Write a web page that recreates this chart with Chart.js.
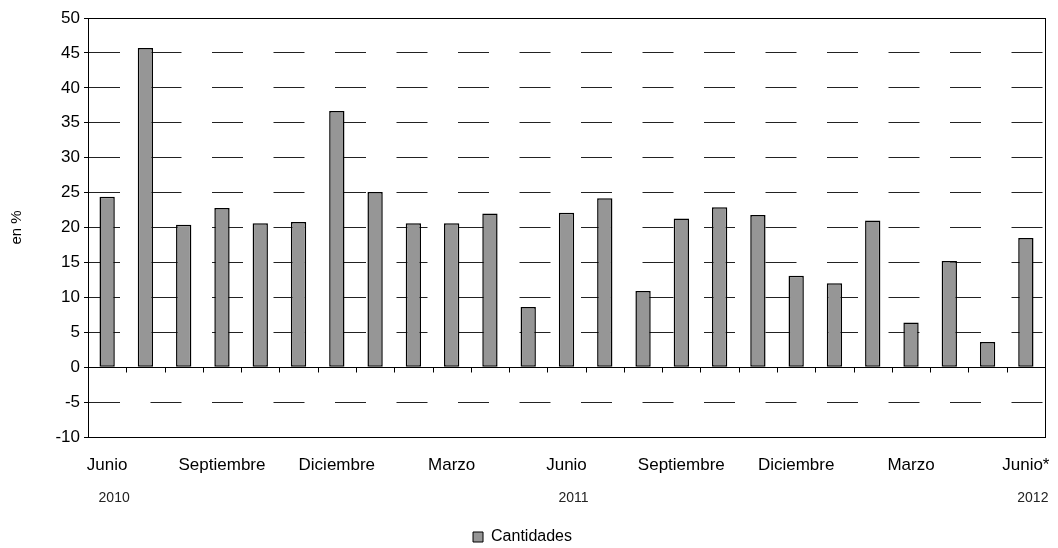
<!DOCTYPE html>
<html>
<head>
<meta charset="utf-8">
<script src="https://cdn.jsdelivr.net/npm/chart.js@4/dist/chart.umd.min.js"></script>
<style>
  html, body { margin: 0; padding: 0; background: #fff; }
  #wrap { width: 1058px; height: 548px; }
</style>
</head>
<body>
<div id="wrap"><canvas id="chartCanvas"></canvas></div>
<script>
// meses (solo algunos llevan etiqueta)
const meses = ['Junio', '', '', 'Septiembre', '', '', 'Diciembre', '', '', 'Marzo', '', '',
  'Junio', '', '', 'Septiembre', '', '', 'Diciembre', '', '', 'Marzo', '', '', 'Junio*'];
const anios = ['2010', '', '', '', '', '', '', '', '', '', '', '',
  '2011', '', '', '', '', '', '', '', '', '', '', '', '2012'];
const cantidades = [24.4, 45.7, 20.4, 22.8, 20.6, 20.8, 36.7, 25.1, 20.6, 20.6, 22.0, 8.6,
  22.1, 24.2, 10.9, 21.3, 22.9, 21.8, 13.1, 12.0, 21.0, 6.4, 15.2, 3.6, 18.5];
const yTicks = { min: -10, max: 50, step: 5 };

const FONT = 'Liberation Sans, Arial, sans-serif';

// marco del area y marcas del eje de categorias sobre el cero
const marcoPlugin = {
  id: 'marco',
  beforeLayout(chart) {
    const lg = chart.legend;
    if (lg && !lg._ajustado) {
      const fitOrig = lg.fit.bind(lg);
      lg.fit = function () { fitOrig(); this.height -= 7; };
      lg._ajustado = true;
    }
  },
  afterDatasetsDraw(chart) {
    const { ctx, chartArea } = chart;
    const x = chart.scales.x;
    const y0 = Math.round(chart.scales.y.getPixelForValue(0)) + 0.5;
    ctx.save();
    ctx.strokeStyle = '#000';
    ctx.lineWidth = 1;
    ctx.strokeRect(Math.round(chartArea.left) + 0.5, Math.round(chartArea.top) + 0.5,
      Math.round(chartArea.right - chartArea.left), Math.round(chartArea.bottom - chartArea.top));
    ctx.beginPath();
    ctx.moveTo(chartArea.left, y0);
    ctx.lineTo(chartArea.right, y0);
    for (let i = 1; i < meses.length; i++) {
      const px = Math.round(x.getPixelForValue(i - 0.5)) + 0.5;
      ctx.moveTo(px, y0);
      ctx.lineTo(px, y0 + 5);
    }
    ctx.stroke();
    ctx.restore();
  }
};

const ctx = document.getElementById('chartCanvas').getContext('2d');
new Chart(ctx, {
  type: 'bar',
  data: {
    labels: meses,
    datasets: [{
      label: 'Cantidades',
      data: cantidades,
      backgroundColor: '#969696',
      borderColor: '#000',
      borderWidth: 1.5,
      borderSkipped: false,
      categoryPercentage: 1,
      barPercentage: 0.4
    }]
  },
  options: {
    responsive: true,
    maintainAspectRatio: false,
    animation: false,
    layout: { padding: { top: 18, right: 13, left: 0, bottom: 0 } },
    plugins: {
      tooltip: { enabled: false },
      legend: {
        position: 'bottom',
        labels: {
          boxWidth: 10,
          boxHeight: 10,
          padding: 6,
          color: '#000',
          font: { family: FONT, size: 16 },
          generateLabels: chart => [{
            text: 'Cantidades',
            fillStyle: '#969696',
            strokeStyle: '#000',
            lineWidth: 1,
            fontColor: '#000',
            datasetIndex: 0
          }]
        }
      }
    },
    scales: {
      x: {
        weight: 0,
        grid: { display: false, drawTicks: false },
        border: { display: false },
        ticks: {
          autoSkip: false,
          maxRotation: 0,
          padding: 18,
          color: '#000',
          font: { family: FONT, size: 17 }
        },
        afterFit: s => { s.height = 44; s.paddingLeft = 0; s.paddingRight = 0; }
      },
      x2: {
        type: 'category',
        labels: anios,
        position: 'bottom',
        offset: true,
        weight: 1,
        grid: { display: false, drawTicks: false },
        border: { display: false },
        ticks: {
          autoSkip: false,
          maxRotation: 0,
          padding: 9,
          labelOffset: 7,
          color: '#222',
          font: { family: FONT, size: 14 }
        },
        afterFit: s => { s.height = 42; s.paddingLeft = 0; s.paddingRight = 0; }
      },
      y: {
        min: yTicks.min,
        max: yTicks.max,
        ticks: {
          stepSize: yTicks.step,
          padding: 4,
          color: '#000',
          font: { family: FONT, size: 17 }
        },
        grid: {
          color: '#222',
          lineWidth: 1,
          tickLength: 4,
          tickColor: '#000'
        },
        border: {
          display: true,
          color: '#000',
          dash: c => (c.tick && c.tick.value === 0) ? [] : [31, 30.5]
        },
        title: {
          display: true,
          text: 'en %',
          color: '#000',
          padding: { top: 8, bottom: 0 },
          font: { family: FONT, size: 15 }
        },
        afterFit: s => { s.width = 88; }
      }
    }
  },
  plugins: [marcoPlugin]
});
</script>
</body>
</html>
